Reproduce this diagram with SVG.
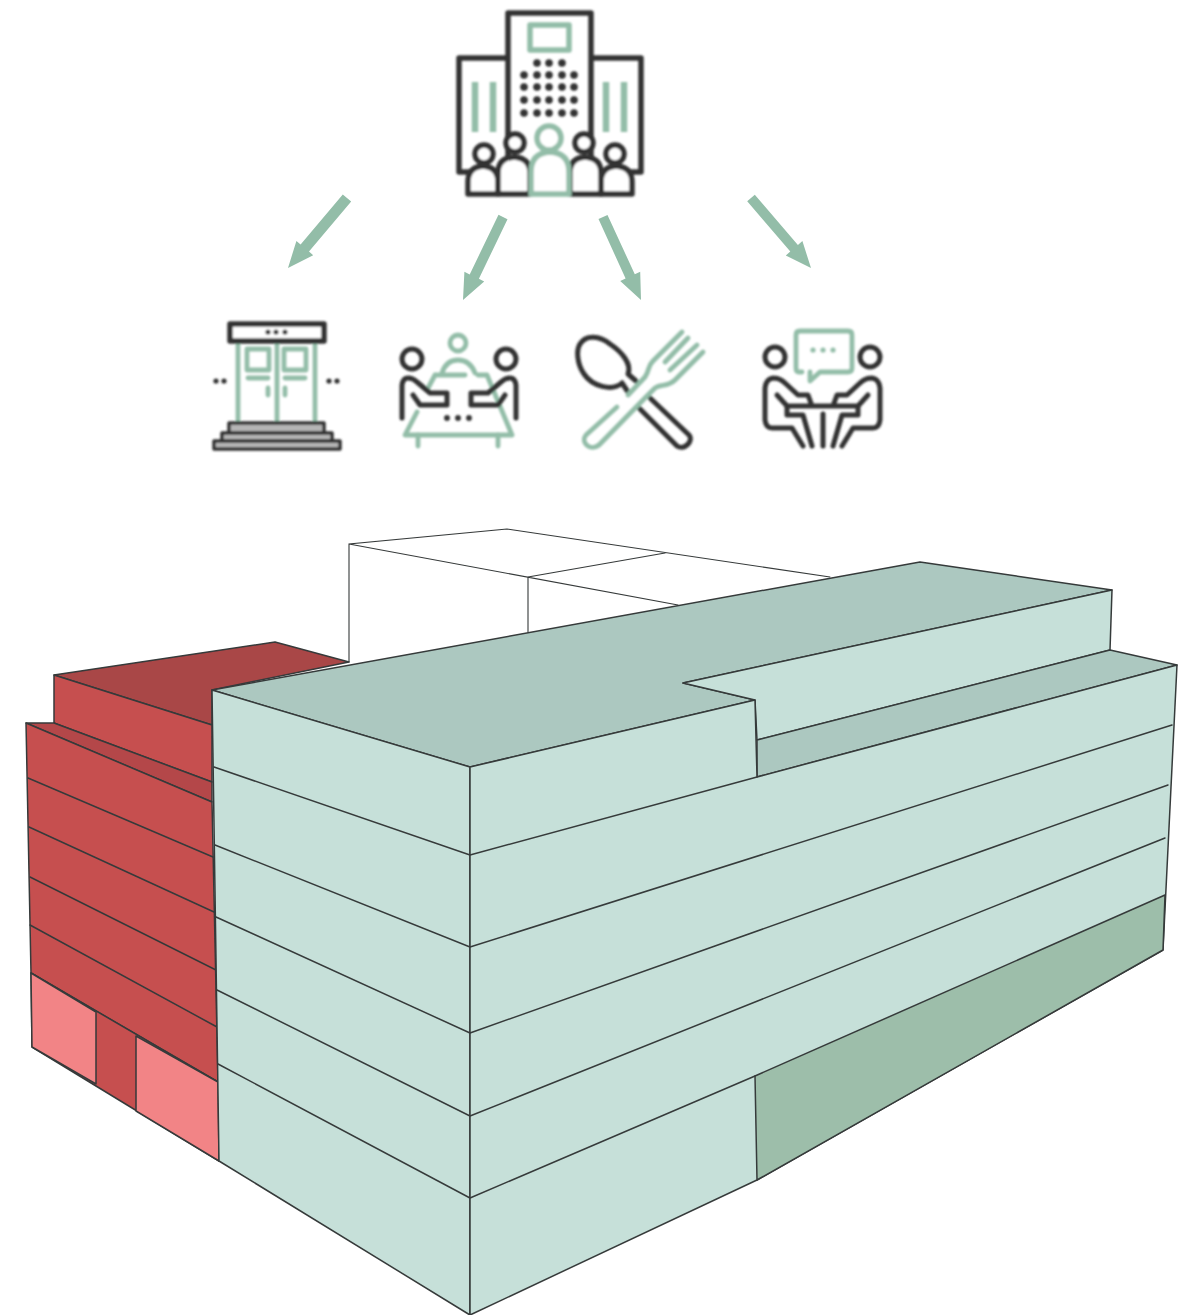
<svg xmlns="http://www.w3.org/2000/svg" width="1192" height="1315" viewBox="0 0 1192 1315">
<style>
.d{fill:none;stroke:#303030;stroke-width:5;stroke-linejoin:round;stroke-linecap:round}
.g{fill:none;stroke:#93bda8;stroke-width:4.8;stroke-linejoin:round;stroke-linecap:round}
.dw{fill:#fff;stroke:#303030;stroke-width:5.5;stroke-linejoin:round}
.gw{fill:#fff;stroke:#93bda8;stroke-width:5.5;stroke-linejoin:round}
.dt{fill:#303030}
.gt{fill:#93bda8}
.e{stroke:#363a3a;stroke-width:1.5;stroke-linejoin:round;stroke-linecap:round}
.l{fill:none;stroke:#363a3a;stroke-width:1.5;stroke-linecap:round}
.a{fill:#93bda8}
.tl{fill:#c6e0d9}.tr{fill:#acc8c0}.tg{fill:#9dbeaa}
.r{fill:#c64f50}.rr{fill:#a94647}.rl{fill:#b44648}.p{fill:#f28486}
</style>
<defs>
<filter id="soft" x="-5%" y="-5%" width="110%" height="110%"><feGaussianBlur stdDeviation="0.9"/></filter>
<filter id="soft2" x="-2%" y="-2%" width="104%" height="104%"><feGaussianBlur stdDeviation="0.5"/></filter>
<g id="dots5"><circle cx="524" r="3.8"/><circle cx="537" r="3.8"/><circle cx="549" r="3.8"/><circle cx="562" r="3.8"/><circle cx="574" r="3.8"/></g>
</defs>
<rect width="1192" height="1315" fill="#fff"/>

<g id="icon-organisation" filter="url(#soft)">
<path class="d" d="M508 58H459V172H468M592 58H641V172H632M508 172V13H591V172" style="stroke-width:5.5"/>
<rect class="g" x="530" y="25" width="39" height="25" style="stroke-width:5.5"/>
<g class="dt"><circle cx="537" cy="63" r="3.8"/><circle cx="549" cy="63" r="3.8"/><circle cx="562" cy="63" r="3.8"/>
<use href="#dots5" y="75"/><use href="#dots5" y="87"/><use href="#dots5" y="100"/><use href="#dots5" y="113"/></g>
<path class="g" d="M475 82V132M493 82V132M606 82V132M624 82V132" style="stroke-width:6.5;stroke-linecap:butt"/>
<path class="dw" d="M468 194V182Q468 167 483 166Q498 167 498 182V194Z"/>
<circle class="dw" cx="484" cy="154" r="9"/>
<path class="dw" d="M498 194V173Q498 158 514 157Q530 158 530 173V194Z"/>
<circle class="dw" cx="515" cy="143" r="9"/>
<path class="dw" d="M632 194V182Q632 167 616 166Q601 167 601 182V194Z"/>
<circle class="dw" cx="615" cy="154" r="9"/>
<path class="dw" d="M601 194V173Q601 158 585 157Q570 158 570 173V194Z"/>
<circle class="dw" cx="584" cy="143" r="9"/>
<path class="gw" d="M531 194V172Q531 153 550 152Q569 153 569 172V194Z"/>
<circle class="gw" cx="549" cy="138" r="12"/>
</g>

<g id="icon-entrance" filter="url(#soft)">
<path class="g" d="M238 341V423M277 341V423M315 341V423"/>
<rect class="g" x="247" y="349" width="22" height="21"/>
<rect class="g" x="284" y="349" width="22" height="21"/>
<path class="g" d="M248 378H268M285 378H305M268 388V395M285 388V395"/>
<rect class="dw" x="230" y="324" width="94" height="17"/>
<g class="dt"><circle cx="268" cy="332" r="2.6"/><circle cx="276" cy="332" r="2.6"/><circle cx="285" cy="332" r="2.6"/>
<circle cx="216" cy="381" r="2.6"/><circle cx="224" cy="381" r="2.6"/><circle cx="329" cy="381" r="2.6"/><circle cx="337" cy="381" r="2.6"/></g>
<g fill="#b5b5b5" stroke="#303030" stroke-width="3.5" stroke-linejoin="round">
<rect x="229" y="423" width="95" height="10"/>
<rect x="222" y="433" width="110" height="8"/>
<rect x="214" y="441" width="126" height="8"/>
</g>
</g>

<g id="icon-meeting" filter="url(#soft)">
<circle class="g" cx="458" cy="343" r="8"/>
<path class="g" d="M442 373Q446 360 458 360Q470 360 475 373M435 375H465M478 375H487L512 435H405L417 412M435 375L427 390"/>
<path class="g" d="M418 435V446M498 435V446"/>
<circle class="d" cx="412" cy="359" r="10"/>
<circle class="d" cx="506" cy="359" r="10"/>
<path class="d" d="M402 418V385Q403 378 408 378Q413 378 417 382L430 393H447V405H420L413 395"/>
<path class="d" d="M516 418V385Q515 378 510 378Q505 378 501 382L488 393H471V405H498L505 395"/>
<g class="dt"><circle cx="447" cy="418" r="2.9"/><circle cx="458" cy="418" r="2.9"/><circle cx="469" cy="418" r="2.9"/></g>
</g>

<g id="icon-dining" filter="url(#soft)">
<path class="d" d="M622 383C612 392 592 386 584 374C577 364 576 350 580 344C586 334 600 336 610 344C622 352 632 364 628 374L636 381M622 383L628 392M650 398L689 435C694 441 684 451 677 446L638 407"/>
<path class="g" d="M617 407L586 435C580 442 590 452 599 445L645 398L655 388C660 384 668 387 675 380L703 352M682 332L653 361C647 367 650 370 645 377L628 395M688 338L665 362M697 345L670 370"/>
</g>

<g id="icon-conversation" filter="url(#soft)">
<path class="g" d="M802 372H799Q796 372 796 368V335Q796 331 800 331H848Q852 331 852 335V368Q852 372 848 372H820L810 381V372"/>
<g class="gt"><circle cx="813" cy="350" r="2.6"/><circle cx="823" cy="350" r="2.6"/><circle cx="833" cy="350" r="2.6"/></g>
<circle class="d" cx="775" cy="357" r="10"/>
<circle class="d" cx="870" cy="357" r="10"/>
<path class="d" d="M777 395L787 406H858L868 395M773 378Q766 379 765 388V420Q766 428 772 428H792L803 446M773 378Q780 378 785 383L798 395H808L812 406M872 378Q879 379 880 388V420Q879 428 873 428H853L842 446M872 378Q865 378 860 383L847 395H837L833 406M787 406V415H803L812 446M858 406V415H842L833 446M823 414V446"/>
</g>

<g id="connectors" class="a" filter="url(#soft2)">
<polygon points="351.2,201.5 309,251.6 313.2,255.2 288,268 296.4,241 300.6,244.6 342.8,194.5"/>
<polygon points="507.5,219.2 478.9,278.8 484.2,281.4 463,300 464.4,271.8 469.7,274.4 498.5,214.8"/>
<polygon points="607.5,214.9 634.8,274.3 640.2,271.8 641,300 620.2,281 625.6,278.5 598.5,219.1"/>
<polygon points="754.8,194.7 797.9,245 802.4,241.1 811,268 785.8,255.5 790.3,251.6 747.2,201.3"/>
</g>

<g id="block-white" filter="url(#soft2)">
<polygon fill="#fff" points="349,544 507,529 830,577 349,662"/>
<path class="l" d="M349,662V544L507,529L830,577M349,544L678,605M528,577L665,553M528,577V632" style="stroke-width:1.1"/>
</g>

<g id="block-red" filter="url(#soft2)">
<polygon class="rr e" points="54,675 275,642 349,662 212,690 212,725"/>
<polygon class="r e" points="54,675 212,725 212,782 54,723"/>
<polygon class="rl e" points="26,723 54,723 212,782 212,802"/>
<polygon class="r e" points="26,723 212,802 218,1082 31,973"/>
<path class="l" d="M28,778L213,857M29,827L214,912M30,877L216,970M30,925L217,1027"/>
<polygon class="r e" points="31,973 218,1082 219,1161 32,1047"/>
<polygon class="p e" points="31,973 96,1012 96,1084 32,1047"/>
<polygon class="p e" points="136,1036 218,1082 219,1161 136,1111"/>
</g>

<g id="block-teal" filter="url(#soft2)">
<polygon class="tr e" points="212,690 920,562 1112,590 683,683 755,700 470,767"/>
<polygon class="tl e" points="683,683 1112,590 1110,650 757,740 755,700"/>
<polygon class="tr e" points="757,740 1110,650 1177,665 757,777"/>
<polygon class="tl e" points="212,690 470,767 470,1315 219,1161"/>
<polygon class="tl e" points="470,767 755,700 757,777 1177,665 1163,950 757,1180 470,1315"/>
<polygon class="tg e" points="755,1076 1165,895 1163,950 757,1180"/>
<path class="l" d="M214,767L470,855M215,845L470,947M216,917L470,1033M217,990L470,1116M218,1064L470,1198M470,855L757,777M470,947L1172,725M470,1033L1168,785M470,1116L1165,838M470,1198L755,1076"/>
</g>
</svg>
